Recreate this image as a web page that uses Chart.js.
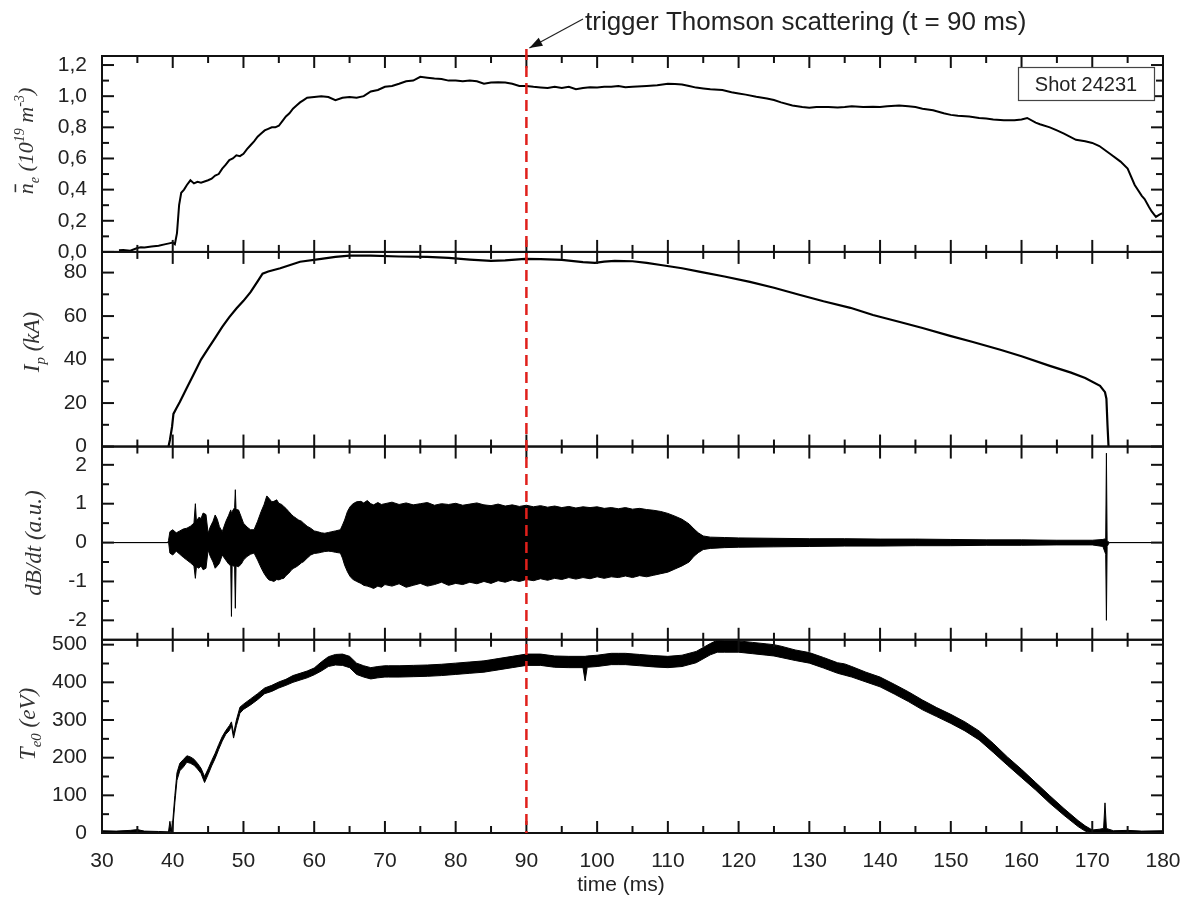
<!DOCTYPE html>
<html>
<head>
<meta charset="utf-8">
<script src="https://cdn.jsdelivr.net/npm/chart.js@4.4.1/dist/chart.umd.min.js"></script>
<style>
  html, body { margin: 0; padding: 0; background: #ffffff; }
  canvas { display: block; }
</style>
</head>
<body>
<canvas id="shot" width="1190" height="899"></canvas>
<script>
// ---- axis ticks ----
const timeTicks = [30, 40, 50, 60, 70, 80, 90, 100, 110, 120, 130, 140, 150, 160, 170, 180];
const neTicks = [0, 0.2, 0.4, 0.6, 0.8, 1.0, 1.2];
const ipTicks = [0, 20, 40, 60, 80];
const dbTicks = [-2, -1, 0, 1, 2];
const teTicks = [0, 100, 200, 300, 400, 500];

// ---- line-averaged density n_e (10^19 m^-3) ----
const neTime = [
  32.4, 33, 34, 35, 35.5, 36, 37, 38, 39, 39.5,
  40, 40.3, 40.6, 40.9, 41.2, 41.6, 42, 42.5, 43, 43.5,
  44, 45, 45.5, 46, 46.5, 47, 47.5, 48, 48.5, 49,
  49.5, 50, 50.5, 51, 51.5, 52, 52.5, 53, 53.5, 54,
  54.5, 55, 55.5, 56, 56.5, 57, 57.5, 58, 58.5, 59,
  60, 61, 62, 63, 64, 65, 66, 67, 68, 69,
  70, 71, 72, 73, 74, 75, 76, 77, 78, 79,
  80, 81, 82, 83, 84, 85, 86, 87, 88, 89,
  90, 91, 92, 93, 94, 95, 96, 97, 98, 99,
  100, 101, 102, 103, 104, 105, 107, 108.5, 110, 111,
  112, 113, 114, 115, 116, 117.7, 119, 120, 121, 122.5,
  124, 125, 126, 127.6, 129, 130, 131, 132.7, 134, 135,
  136, 137.6, 139, 140, 141, 142.7, 144, 145, 146, 147.5,
  149, 150, 151, 152.6, 154, 155, 156, 157.5, 159, 160,
  160.8, 162, 162.6, 164, 165, 166, 167.7, 169, 170, 171,
  172.5, 174, 175, 176, 177, 177.4, 178, 178.4, 179, 179.5,
  180
];
const neValue = [
  0.01, 0.012, 0.008, 0.025, 0.03, 0.028, 0.035, 0.04, 0.05, 0.055,
  0.06, 0.05, 0.12, 0.3, 0.38, 0.4, 0.43, 0.46, 0.44, 0.45,
  0.445, 0.46, 0.47, 0.49, 0.5, 0.535, 0.56, 0.59, 0.6, 0.62,
  0.615, 0.63, 0.66, 0.685, 0.71, 0.74, 0.76, 0.78, 0.79, 0.8,
  0.8, 0.81, 0.84, 0.87, 0.89, 0.92, 0.94, 0.96, 0.975, 0.99,
  0.995, 1.0, 0.995, 0.975, 0.99, 0.995, 0.99, 1.0, 1.03, 1.04,
  1.06, 1.066, 1.08, 1.096, 1.1, 1.124, 1.118, 1.113, 1.11, 1.1,
  1.1, 1.096, 1.1, 1.096, 1.08, 1.088, 1.09, 1.088, 1.08, 1.066,
  1.066, 1.06, 1.056, 1.053, 1.06, 1.053, 1.06, 1.045, 1.053, 1.058,
  1.056, 1.06, 1.06, 1.066, 1.058, 1.06, 1.066, 1.07, 1.08, 1.078,
  1.075, 1.065, 1.055, 1.05, 1.045, 1.04, 1.025, 1.017, 1.01, 0.996,
  0.985, 0.975, 0.96, 0.94, 0.93, 0.925, 0.93, 0.93, 0.928, 0.93,
  0.935, 0.93, 0.932, 0.93, 0.935, 0.94, 0.935, 0.93, 0.92, 0.91,
  0.89, 0.88, 0.875, 0.87, 0.86, 0.856, 0.85, 0.846, 0.845, 0.85,
  0.86, 0.83, 0.82, 0.8, 0.78, 0.76, 0.72, 0.71, 0.7, 0.68,
  0.63, 0.58, 0.535, 0.43, 0.36, 0.34, 0.29, 0.26, 0.225, 0.24,
  0.25
];

// ---- plasma current I_p (kA) ----
const ipTime = [
  39.4, 39.6, 39.9, 40.1, 40.5, 41, 42, 43, 44, 45,
  46, 47, 48, 49, 50, 51, 52, 52.7, 53.5, 55.2,
  58, 61, 63, 65, 68, 72, 76, 79, 82, 85,
  87, 89.8, 92, 95, 98, 99.7, 101, 102.5, 105, 107,
  109, 112, 114.6, 118, 121.6, 125, 128.7, 132, 135.8, 139,
  142.8, 146, 149.9, 153, 157, 160, 164, 167, 169, 171.1,
  171.8, 172.0, 172.15, 172.3
];
const ipValue = [
  0, 3, 9, 15, 17.5, 20.5, 27, 33.5, 40, 45,
  50, 55, 59.5, 63.5, 67, 71, 76, 79.5, 80.5, 82,
  85, 86.3, 87.2, 87.8, 87.8, 87.4, 87.2, 86.8, 86, 85.4,
  85.6, 86.3, 86.2, 85.8, 84.8, 84.5, 85, 85.4, 85.2, 84.5,
  83.5, 82, 80.3, 78.2, 75.7, 73, 69.7, 66.8, 63.8, 60.5,
  57.3, 54.5, 50.9, 48.2, 44.5, 41.5, 37.1, 34, 31.5, 27.9,
  25, 22, 10, 0
];

// ---- Mirnov coil dB/dt (a.u.): upper and lower envelope of the oscillation ----
const dbTime = [
  30, 39.3, 39.4, 39.6, 40.0, 40.5, 41.0, 41.5, 42.0, 42.5,
  43.0, 43.2, 43.35, 43.7, 44.0, 44.3, 44.7, 45.0, 45.3, 45.7,
  46.0, 46.3, 46.6, 47.0, 47.5, 47.9, 48.2, 48.3, 48.4, 48.75,
  48.85, 48.95, 49.3, 49.7, 50.0, 50.5, 51.0, 51.5, 52.0, 52.5,
  52.9, 53.3, 53.6, 54.0, 54.3, 54.7, 55.0, 55.4, 55.7, 56.0,
  56.4, 56.8, 57.1, 57.5, 57.8, 58.2, 58.5, 59.0, 59.5, 60.0,
  60.5, 61.0, 61.5, 62.0, 62.5, 63.0, 63.7, 64.0, 64.3, 64.7,
  65.1, 65.5, 66.0, 66.6, 67.0, 67.5, 68.0, 68.4, 69.0, 69.5,
  70, 71, 72, 73, 74, 75, 76, 77, 78, 79,
  80, 81, 82, 83, 84, 85, 86, 87, 88, 89,
  90, 91, 92, 93, 94, 95, 96, 97, 98, 99,
  100, 101, 102, 103, 104, 105, 106, 107, 108, 109,
  110, 111, 112, 113, 113.7, 114.3, 115, 116, 118, 120,
  125, 130, 135, 140, 145, 150, 155, 160, 165, 170,
  171.5, 171.9, 172.0, 172.1, 172.4, 180
];
const dbUpper = [
  0, 0, 0.05, 0.28, 0.33, 0.25, 0.3, 0.35, 0.37, 0.42,
  0.5, 1.0, 0.55, 0.65, 0.62, 0.76, 0.72, 0.24, 0.4, 0.55,
  0.71, 0.6, 0.41, 0.28, 0.54, 0.7, 0.84, 0.75, 0.8, 0.9,
  1.36, 0.85, 0.84, 0.65, 0.5, 0.4, 0.33, 0.33, 0.55, 0.8,
  0.97, 1.2, 1.14, 1.05, 1.06, 1.1, 1.01, 0.98, 0.93, 0.88,
  0.8, 0.72, 0.67, 0.62, 0.58, 0.55, 0.5, 0.42, 0.37, 0.3,
  0.28, 0.25, 0.24, 0.26, 0.28, 0.3, 0.33, 0.45, 0.58, 0.8,
  0.93, 1.0, 1.05, 1.06, 1.02, 1.08, 1.0, 0.97, 1.03, 0.98,
  1.0, 1.04, 0.98, 1.02, 0.97, 1.0, 1.03, 0.96, 1.0, 0.98,
  1.01, 0.96, 0.99, 1.02, 0.97, 0.95, 0.99, 0.94, 0.97, 0.93,
  0.96, 0.92, 0.95, 0.91, 0.94, 0.9, 0.93, 0.89, 0.92, 0.9,
  0.92, 0.88, 0.9, 0.87, 0.9, 0.86, 0.88, 0.85, 0.83, 0.8,
  0.75, 0.68, 0.6, 0.48, 0.35, 0.25, 0.17, 0.14, 0.13, 0.12,
  0.11, 0.1, 0.1, 0.09, 0.09, 0.08, 0.07, 0.07, 0.06, 0.06,
  0.08, 0.1, 2.3, 0.05, 0, 0
];
const dbLower = [
  0, 0, 0.03, -0.27, -0.32, -0.22, -0.3, -0.38, -0.45, -0.52,
  -0.6, -0.92, -0.62, -0.66, -0.6, -0.7, -0.66, -0.19, -0.35, -0.5,
  -0.66, -0.6, -0.53, -0.32, -0.45, -0.55, -0.6, -1.9, -0.58, -0.62,
  -1.69, -0.6, -0.62, -0.55, -0.45, -0.36, -0.3, -0.27, -0.45, -0.65,
  -0.79, -0.9, -0.96, -0.98, -1.0, -0.95, -0.96, -0.93, -0.92, -0.85,
  -0.79, -0.7, -0.66, -0.62, -0.58, -0.52, -0.49, -0.4, -0.32, -0.28,
  -0.27, -0.25, -0.23, -0.22, -0.23, -0.25, -0.27, -0.4, -0.58, -0.75,
  -0.88, -0.95, -1.0, -1.05, -1.1, -1.12, -1.15, -1.18, -1.12, -1.15,
  -1.08, -1.12, -1.06, -1.15, -1.1, -1.05, -1.12, -1.08, -1.02, -1.1,
  -1.05, -1.08, -1.02, -1.06, -1.0, -1.05, -0.98, -1.02, -0.96, -1.0,
  -0.95, -0.98, -0.93, -0.97, -0.92, -0.95, -0.9, -0.94, -0.9, -0.93,
  -0.88, -0.92, -0.88, -0.9, -0.86, -0.9, -0.85, -0.88, -0.84, -0.8,
  -0.76, -0.68, -0.6, -0.5, -0.35, -0.26, -0.18, -0.15, -0.13, -0.12,
  -0.11, -0.1, -0.09, -0.09, -0.08, -0.08, -0.07, -0.07, -0.06, -0.06,
  -0.1, -0.3, -2.0, -0.1, 0, 0
];

// ---- central electron temperature T_e0 (eV): lower and upper edge of the noisy trace ----
const teTime = [
  30, 32, 34, 35, 36, 38, 39.4, 39.6, 39.8, 40.0,
  40.3, 40.6, 41.0, 41.5, 42.0, 42.5, 43.0, 43.5, 44.0, 44.5,
  45.0, 45.5, 46.0, 46.5, 47.0, 47.5, 48.0, 48.3, 48.6, 49.0,
  49.5, 50, 51, 52, 53, 54, 55, 56, 57, 58,
  59, 60, 61, 62, 63, 64, 65, 66, 67, 68,
  69, 70, 70.5, 72, 74, 76, 78, 80, 82, 84,
  85, 86, 88, 90, 92, 94, 96, 98, 98.3, 98.6,
  100, 102, 103, 104, 106, 108, 110, 112, 114, 116,
  117, 118, 120, 122, 124, 125, 126, 128, 130, 132,
  134, 135, 136, 138, 140, 142, 144, 146, 148, 150,
  152, 154, 156, 158, 160, 162, 164, 166, 168, 169,
  170, 171, 171.6, 171.8, 172, 173, 175, 177, 180
];
const teLower = [
  2, 1, 2, 1, 2, 1, 0, 5, 0, 10,
  80, 140, 165, 175, 188, 185, 180, 170, 158, 134,
  155, 178, 198, 222, 244, 262, 272, 285, 252, 285,
  318, 328, 340, 354, 370, 376, 385, 392, 400, 406,
  412, 420, 430, 442, 446, 445, 439, 421, 414, 409,
  412, 414, 414, 414, 415, 416, 418, 421, 424, 427,
  430, 433, 439, 445, 445, 440, 439, 439, 404, 440,
  442, 447, 447, 447, 444, 441, 439, 442, 452, 473,
  480, 480, 480, 476, 472, 470, 466, 458, 451, 438,
  424, 419, 414, 401, 388, 369, 349, 327, 309, 291,
  271, 247, 214, 180, 147, 114, 79, 47, 17, 5,
  0, 0, 0, 2, 0, 1, 2, 1, 2
];
const teUpper = [
  6, 5, 7, 9, 5, 4, 3, 31, 6, 30,
  100, 160, 185, 195, 205, 202, 196, 185, 172, 150,
  170, 192, 212, 235, 256, 272, 285, 295, 264, 300,
  334, 342, 356, 370, 385, 392, 401, 408, 418, 424,
  430, 438, 454, 468, 474, 475, 469, 451, 444, 439,
  442, 444, 444, 444, 445, 446, 448, 451, 454, 457,
  460, 463, 469, 475, 475, 470, 469, 469, 469, 470,
  472, 477, 477, 477, 474, 471, 469, 472, 482, 503,
  512, 510, 510, 506, 502, 500, 496, 486, 479, 466,
  452, 449, 442, 427, 414, 395, 375, 353, 333, 315,
  295, 271, 238, 202, 169, 134, 99, 65, 33, 19,
  8, 10, 12, 80, 12, 6, 7, 5, 6
];

const triggerTime = 90;
const shotLabel = 'Shot 24231';
const triggerLabel = 'trigger Thomson scattering (t = 90 ms)';

// ---- helpers ----
const pts = (xs, ys) => xs.map((x, i) => ({ x, y: ys[i] }));
const tickFont = { family: '"Liberation Sans", Arial, sans-serif', size: 21 };
const fixTicks = (list) => (scale) => { scale.ticks = list.map(v => ({ value: v })); };
const yWidth = 102;

function panelScale(ticks, min, max, weight, stackWeight, fmt) {
  return {
    type: 'linear', position: 'left', stack: 'panels', stackWeight, weight,
    min, max,
    afterBuildTicks: fixTicks(ticks),
    afterFit: (s) => { s.width = yWidth; s.paddingTop = 0; s.paddingBottom = 0; },
    grid: { display: false, drawTicks: false },
    border: { display: false },
    ticks: { font: tickFont, color: '#222', padding: 15, autoSkip: false, callback: fmt || ((v) => String(v)) }
  };
}

const lineStyle = { borderColor: '#000', pointRadius: 0, tension: 0, fill: false };

// draws one rotated axis title made of normal / subscript / superscript runs
function rotatedRich(ctx, parts, cx, cy, size) {
  const big = `italic ${size}px "Liberation Serif", "Times New Roman", serif`;
  const small = `italic ${Math.round(size * 0.65)}px "Liberation Serif", "Times New Roman", serif`;
  let total = 0;
  parts.forEach(p => { ctx.font = p.k === 'n' || p.k === 'bar' ? big : small; p.w = ctx.measureText(p.t).width; total += p.w; });
  ctx.save();
  ctx.translate(cx, cy);
  ctx.rotate(-Math.PI / 2);
  ctx.fillStyle = '#333';
  ctx.textBaseline = 'alphabetic';
  let x = -total / 2;
  parts.forEach(p => {
    ctx.font = p.k === 'n' || p.k === 'bar' ? big : small;
    const dy = p.k === 'b' ? size * 0.28 : p.k === 'p' ? -size * 0.42 : 0;
    ctx.fillText(p.t, x, dy);
    if (p.k === 'bar') {
      ctx.strokeStyle = '#333';
      ctx.lineWidth = 1.6;
      ctx.beginPath();
      ctx.moveTo(x + 2, -size * 0.8);
      ctx.lineTo(x + p.w - 1, -size * 0.8);
      ctx.stroke();
    }
    x += p.w;
  });
  ctx.restore();
}

const framePlugin = {
  id: 'frame',
  afterDatasetsDraw(chart) {
    const ctx = chart.ctx;
    const area = chart.chartArea;
    const xs = chart.scales.x;
    const panels = ['yNe', 'yIp', 'yDb', 'yTe'].map(id => chart.scales[id]);
    const MAJ = 12, MIN = 7;
    const mids = (arr) => arr.slice(1).map((v, i) => (v + arr[i]) / 2);
    const xMinor = mids(timeTicks);
    ctx.save();
    ctx.strokeStyle = '#111';
    ctx.lineWidth = 2;
    const seg = (x1, y1, x2, y2) => { ctx.beginPath(); ctx.moveTo(x1, y1); ctx.lineTo(x2, y2); ctx.stroke(); };
    panels.forEach(s => {
      ctx.strokeRect(area.left, s.top, area.right - area.left, s.bottom - s.top);
      const majors = s.ticks.map(t => t.value);
      const minors = mids(majors);
      majors.forEach(v => { const y = s.getPixelForValue(v); seg(area.left, y, area.left + MAJ, y); seg(area.right, y, area.right - MAJ, y); });
      minors.forEach(v => { const y = s.getPixelForValue(v); seg(area.left, y, area.left + MIN, y); seg(area.right, y, area.right - MIN, y); });
      timeTicks.forEach(v => { const x = xs.getPixelForValue(v); seg(x, s.top, x, s.top + MAJ); seg(x, s.bottom, x, s.bottom - MAJ); });
      xMinor.forEach(v => { const x = xs.getPixelForValue(v); seg(x, s.top, x, s.top + MIN); seg(x, s.bottom, x, s.bottom - MIN); });
    });
    // Thomson scattering trigger marker
    const xt = xs.getPixelForValue(triggerTime);
    ctx.strokeStyle = '#e0201b';
    ctx.lineWidth = 2.5;
    ctx.setLineDash([11, 6]);
    seg(xt, area.top - 7, xt, area.bottom);
    ctx.setLineDash([]);
    ctx.restore();
  },
  afterDraw(chart) {
    const ctx = chart.ctx;
    const area = chart.chartArea;
    const xs = chart.scales.x;
    const xt = xs.getPixelForValue(triggerTime);
    ctx.save();
    // annotation text and arrow
    ctx.fillStyle = '#222';
    ctx.font = '26px "Liberation Sans", Arial, sans-serif';
    ctx.textBaseline = 'alphabetic';
    ctx.textAlign = 'left';
    ctx.fillText(triggerLabel, 585, 30);
    const tipX = xt + 3, tipY = area.top - 8;
    const fromX = 583, fromY = 19;
    ctx.strokeStyle = '#222';
    ctx.lineWidth = 1.2;
    ctx.beginPath(); ctx.moveTo(fromX, fromY); ctx.lineTo(tipX, tipY); ctx.stroke();
    const ang = Math.atan2(tipY - fromY, tipX - fromX);
    ctx.beginPath();
    ctx.moveTo(tipX, tipY);
    ctx.lineTo(tipX - 13 * Math.cos(ang) + 4.5 * Math.sin(ang), tipY - 13 * Math.sin(ang) - 4.5 * Math.cos(ang));
    ctx.lineTo(tipX - 13 * Math.cos(ang) - 4.5 * Math.sin(ang), tipY - 13 * Math.sin(ang) + 4.5 * Math.cos(ang));
    ctx.closePath();
    ctx.fillStyle = '#111';
    ctx.fill();

    // shot box
    ctx.fillStyle = '#fff';
    ctx.fillRect(1018, 67, 136, 33);
    ctx.strokeStyle = '#444';
    ctx.lineWidth = 1.2;
    ctx.strokeRect(1018.5, 67.5, 136, 33);
    ctx.fillStyle = '#222';
    ctx.font = '20px "Liberation Sans", Arial, sans-serif';
    ctx.textAlign = 'center';
    ctx.textBaseline = 'middle';
    ctx.fillText(shotLabel, 1086, 85);

    // x axis title
    ctx.font = '21px "Liberation Sans", Arial, sans-serif';
    ctx.textBaseline = 'alphabetic';
    ctx.fillText('time (ms)', 621, 891);
    ctx.restore();

    // y axis titles
    rotatedRich(ctx, [{ t: 'n', k: 'bar' }, { t: 'e', k: 'b' }, { t: ' (10', k: 'n' }, { t: '19', k: 'p' }, { t: ' m', k: 'n' }, { t: '-3', k: 'p' }, { t: ')', k: 'n' }], 33, 141, 22);
    rotatedRich(ctx, [{ t: 'I', k: 'n' }, { t: 'p', k: 'b' }, { t: ' (kA)', k: 'n' }], 39, 342, 23);
    rotatedRich(ctx, [{ t: 'dB/dt (a.u.)', k: 'n' }], 41, 543, 23);
    rotatedRich(ctx, [{ t: 'T', k: 'n' }, { t: 'e0', k: 'b' }, { t: ' (eV)', k: 'n' }], 35, 724, 23);
  }
};

new Chart(document.getElementById('shot'), {
  type: 'line',
  data: {
    datasets: [
      { label: 'n_e', data: pts(neTime, neValue), yAxisID: 'yNe', ...lineStyle, borderWidth: 2 },
      { label: 'I_p', data: pts(ipTime, ipValue), yAxisID: 'yIp', ...lineStyle, borderWidth: 2.2 },
      { label: 'dB/dt upper', data: pts(dbTime, dbUpper), yAxisID: 'yDb', ...lineStyle, borderWidth: 1 },
      { label: 'dB/dt lower', data: pts(dbTime, dbLower), yAxisID: 'yDb', ...lineStyle, borderWidth: 1, fill: '-1', backgroundColor: '#000' },
      { label: 'T_e0 upper', data: pts(teTime, teUpper), yAxisID: 'yTe', ...lineStyle, borderWidth: 1 },
      { label: 'T_e0 lower', data: pts(teTime, teLower), yAxisID: 'yTe', ...lineStyle, borderWidth: 1, fill: '-1', backgroundColor: '#000' }
    ]
  },
  options: {
    responsive: false,
    animation: false,
    devicePixelRatio: 1,
    layout: { padding: { left: 0, right: 27, top: 56, bottom: 0 } },
    plugins: { legend: { display: false }, tooltip: { enabled: false } },
    scales: {
      x: {
        type: 'linear', position: 'bottom', min: 30, max: 180,
        afterBuildTicks: fixTicks(timeTicks),
        afterFit: (s) => { s.height = 66; s.paddingLeft = 0; s.paddingRight = 0; },
        grid: { display: false, drawTicks: false },
        border: { display: false },
        ticks: { font: tickFont, color: '#222', padding: 16, maxRotation: 0, autoSkip: false }
      },
      yNe: panelScale(neTicks, 0, 1.258, 4, 196, (v) => v.toFixed(1).replace('.', ',')),
      yIp: panelScale(ipTicks, 0, 89.5, 3, 194.7),
      yDb: panelScale(dbTicks, -2.5, 2.47, 2, 193.3),
      yTe: panelScale(teTicks, 0, 513, 1, 193.3)
    }
  },
  plugins: [framePlugin]
});
</script>
</body>
</html>
